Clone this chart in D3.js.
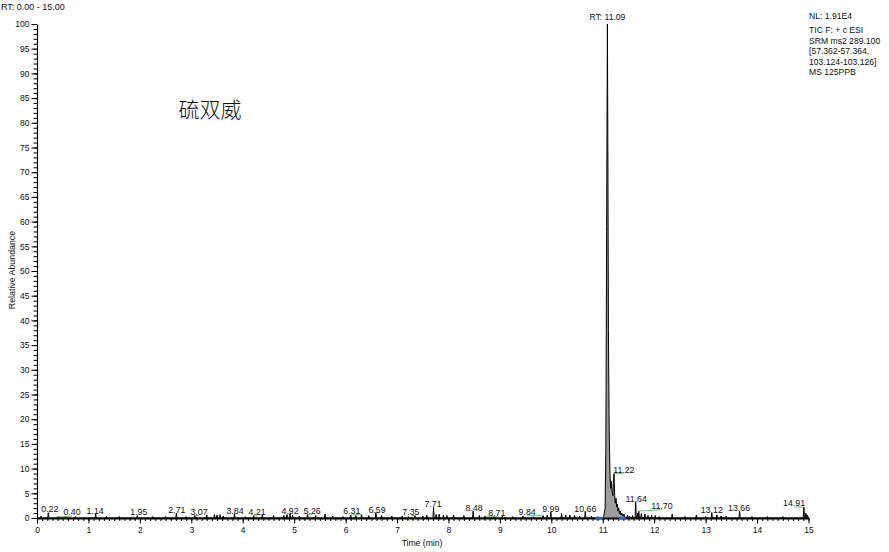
<!DOCTYPE html>
<html><head><meta charset="utf-8">
<script src="https://cdn.jsdelivr.net/npm/d3@7/dist/d3.min.js"></script>
<style>
body{margin:0;background:#fff}
svg{display:block}
text{font-family:"Liberation Sans",Arial,sans-serif;fill:#111}
</style>
</head><body>
<svg id="c" width="889" height="552"></svg>
<script>
// ---------- data ----------
const xDomain = [0, 15];
const yDomain = [0, 100];
const xMajorTicks = d3.range(0, 16, 1);
const yMajorTicks = d3.range(0, 101, 5);
const rangeText = "RT: 0.00 - 15.00";
const compoundName = "硫双威";
const infoTop = "NL: 1.91E4";
const infoLines = ["TIC F: + c ESI", "SRM ms2 289.100", "[57.362-57.364,", "103.124-103.126]", "MS 125PPB"];
const xTitle = "Time (min)";
const yTitle = "Relative Abundance";

// baseline noise spikes: [time (min), relative abundance (%)]
const spikes = [
  [0.08,0.4],[0.22,1.1],[0.40,0.3],[0.55,0.3],[0.75,0.3],[1.14,0.9],[1.35,0.3],[1.6,0.3],
  [1.95,0.5],[2.25,0.3],[2.5,0.3],[2.71,1.0],[2.9,0.3],[3.07,0.5],[3.3,0.6],[3.45,0.7],
  [3.5,0.6],[3.56,0.7],[3.62,0.4],[3.84,0.9],[4.05,0.3],[4.21,0.5],[4.38,0.6],[4.6,0.5],
  [4.8,0.5],[4.86,0.7],[4.92,0.9],[4.97,0.6],[5.1,0.4],[5.26,0.7],[5.42,0.5],[5.6,0.8],
  [5.75,0.4],[5.95,0.3],[6.1,0.6],[6.2,0.5],[6.31,0.7],[6.45,0.5],[6.59,1.1],[6.7,0.5],
  [6.9,0.4],[7.1,0.4],[7.22,0.3],[7.35,0.5],[7.5,0.4],[7.58,0.6],[7.71,2.1],[7.76,0.7],
  [7.82,0.8],[7.9,0.6],[7.97,0.5],[8.1,0.6],[8.3,0.5],[8.48,1.4],[8.6,0.5],[8.71,0.4],
  [8.88,0.4],[9.05,0.4],[9.25,0.3],[9.45,0.4],[9.65,0.3],[9.84,0.5],[9.92,0.6],[9.99,1.2],
  [10.2,0.9],[10.28,0.6],[10.36,0.6],[10.45,0.5],[10.55,0.4],[10.66,1.3],[10.78,0.4],
  [11.48,0.6],[11.52,0.4],[11.58,0.5],[11.64,3.2],[11.68,1.0],[11.70,1.4],[11.75,0.9],
  [11.82,0.8],[11.88,0.5],[11.95,0.6],[12.02,0.5],[12.1,0.3],[12.35,0.8],[12.6,0.3],
  [12.82,0.6],[13.0,0.3],[13.12,1.0],[13.22,0.6],[13.3,0.4],[13.4,0.4],[13.66,1.4],
  [13.9,0.3],[14.2,0.3],[14.5,0.3],[14.91,2.2],[14.95,1.0],[14.98,0.6]
];

// main (integrated) peak profile: [time, %]
const mainPeak = [
  [10.98,0],[11.02,0.3],[11.045,2],[11.06,14],[11.075,58],[11.09,100],[11.10,72],[11.11,38],
  [11.125,18],[11.14,9],[11.155,6],[11.165,7.5],[11.18,5.5],[11.195,4.5],[11.205,7],[11.22,9.0],
  [11.232,4.5],[11.245,3],[11.258,4],[11.27,2.2],[11.283,2.8],[11.296,1.4],[11.31,2],
  [11.325,0.9],[11.34,1.4],[11.355,0.6],[11.37,1.0],[11.39,0.4],[11.41,0.8],[11.43,0.2],[11.45,0]
];

// peak labels: text, peak time, peak height
const peakTexts   = ["0.22","0.40","1.14","1.95","2.71","3.07","3.84","4.21","4.92","5.26","6.31","6.59","7.35","7.71","8.48","8.71","9.84","9.99","10.66","11.22","11.64","11.70","13.12","13.66","14.91"];
const peakTimes   = [0.22,0.40,1.14,1.95,2.71,3.07,3.84,4.21,4.92,5.26,6.31,6.59,7.35,7.71,8.48,8.71,9.84,9.99,10.66,11.22,11.64,11.70,13.12,13.66,14.91];
const peakHeights = [1.1,0.3,0.9,0.5,1.0,0.5,0.9,0.5,0.9,0.7,0.7,1.1,0.5,2.1,1.4,0.4,0.5,1.2,1.3,9.0,3.2,1.4,1.0,1.4,2.2];
// label anchor (time, level) and whether a leader line is drawn
const labelTimes  = [0.25,0.68,1.13,1.98,2.72,3.15,3.85,4.28,4.92,5.35,6.12,6.61,7.27,7.70,8.50,8.94,9.53,9.99,10.66,11.41,11.65,12.15,13.12,13.65,14.72];
const labelLevels = [1.15,0.6,0.9,0.7,1.0,0.7,0.9,0.7,0.9,0.9,0.9,1.1,0.7,2.3,1.5,0.5,0.7,1.3,1.3,9.2,3.3,1.9,1.1,1.5,2.5];
const labelLeader = [true,true,false,false,false,true,false,true,false,true,true,false,true,false,false,true,true,false,false,true,false,true,false,false,true];
const mainPeakText = "RT: 11.09";
const mainPeakTime = 11.09;
const mainPeakHeight = 100;
// integration baseline segments (min)
const baseSegments = [[10.86, 11.0], [11.32, 11.45]];

// ---------- drawing ----------
const svg = d3.select("#c");
const x = d3.scaleLinear().domain(xDomain).range([37, 808.5]);
const y = d3.scaleLinear().domain(yDomain).range([518, 24]);

// header texts
svg.append("text").attr("x", 1).attr("y", 10).attr("font-size", 9).text(rangeText);
svg.append("text").attr("x", 809).attr("y", 19).attr("font-size", 8.6).text(infoTop);
infoLines.forEach((t, i) => {
  svg.append("text").attr("x", 809).attr("y", 33 + i * 10.6).attr("font-size", 8.6).text(t);
});
svg.append("text").attr("x", 210).attr("y", 117).attr("text-anchor", "middle")
  .attr("font-size", 21).style("font-family", '"Noto Sans CJK SC", sans-serif')
  .style("font-weight", 300).text(compoundName);

// gray filled main peak
const area = d3.area().x(d => x(d[0])).y0(y(0)).y1(d => y(d[1]));
svg.append("path").datum(mainPeak).attr("d", area).attr("fill", "#9c9c9c");

// trace: spikes + main peak
const w = 0.012;
let pts = [[0, 0], [15, 0]];
spikes.forEach(s => { pts.push([s[0] - w, 0], [s[0], s[1]], [s[0] + w, 0]); });
mainPeak.forEach(p => pts.push(p));
pts.sort((a, b) => a[0] - b[0]);
const line = d3.line().x(d => x(d[0])).y(d => y(d[1]));

// axes
const yMinor = d3.axisLeft(y).tickValues(d3.range(0, 101, 1)).tickSize(3.5).tickSizeOuter(0).tickFormat("");
const yMajor = d3.axisLeft(y).tickValues(yMajorTicks).tickSize(5.5).tickSizeOuter(0).tickPadding(2);
const gy1 = svg.append("g").attr("transform", "translate(37,0)").call(yMinor);
const gy2 = svg.append("g").attr("transform", "translate(37,0)").call(yMajor);
gy2.select(".domain").remove();
gy1.select(".domain").attr("stroke-width", 1.2);
gy2.selectAll("text").attr("font-size", 8.5).style("font-family", '"Liberation Sans",Arial,sans-serif').attr("fill", "#111");

const xMinor = d3.axisBottom(x).tickValues(d3.range(0, 150.5, 1).map(v => v / 10)).tickSize(3).tickSizeOuter(0).tickFormat("");
const xMajor = d3.axisBottom(x).tickValues(xMajorTicks).tickSize(5.5).tickSizeOuter(0).tickPadding(3).tickFormat(d3.format("d"));
const gx1 = svg.append("g").attr("transform", "translate(0,518)").call(xMinor);
const gx2 = svg.append("g").attr("transform", "translate(0,518)").call(xMajor);
gx2.select(".domain").remove();
gx1.select(".domain").attr("stroke-width", 2);
gx2.selectAll("text").attr("font-size", 8.5).style("font-family", '"Liberation Sans",Arial,sans-serif').attr("fill", "#111");

svg.append("path").datum(pts).attr("d", line).attr("fill", "none").attr("stroke", "#000").attr("stroke-width", 1);

// integration baseline markers
baseSegments.forEach(s => {
  svg.append("line").attr("x1", x(s[0])).attr("x2", x(s[1])).attr("y1", y(0)).attr("y2", y(0))
    .attr("stroke", "#2f5fb8").attr("stroke-width", 2);
});
[baseSegments[0][0] + 0.05, baseSegments[1][1] - 0.05].forEach(t => {
  svg.append("line").attr("x1", x(t)).attr("x2", x(t)).attr("y1", y(0) - 2).attr("y2", y(0) + 1.5)
    .attr("stroke", "#2f5fb8").attr("stroke-width", 1.2);
});

// leaders + labels
peakTexts.forEach((t, i) => {
  if (labelLeader[i]) {
    svg.append("line")
      .attr("x1", x(peakTimes[i])).attr("y1", y(peakHeights[i]))
      .attr("x2", x(labelTimes[i])).attr("y2", y(labelLevels[i]) + 1.2)
      .attr("stroke", "#6cc46c").attr("stroke-width", 1);
  }
  svg.append("text").attr("x", x(labelTimes[i])).attr("y", y(labelLevels[i]))
    .attr("text-anchor", "middle").attr("font-size", 8.8).text(t);
});
svg.append("text").attr("x", x(mainPeakTime)).attr("y", y(mainPeakHeight) - 4)
  .attr("text-anchor", "middle").attr("font-size", 8.6).text(mainPeakText);

// axis titles
svg.append("text").attr("x", 422).attr("y", 546).attr("text-anchor", "middle").attr("font-size", 8.6).text(xTitle);
svg.append("text").attr("transform", "translate(15,270) rotate(-90)").attr("text-anchor", "middle")
  .attr("font-size", 8.8).text(yTitle);
</script>
</body></html>
